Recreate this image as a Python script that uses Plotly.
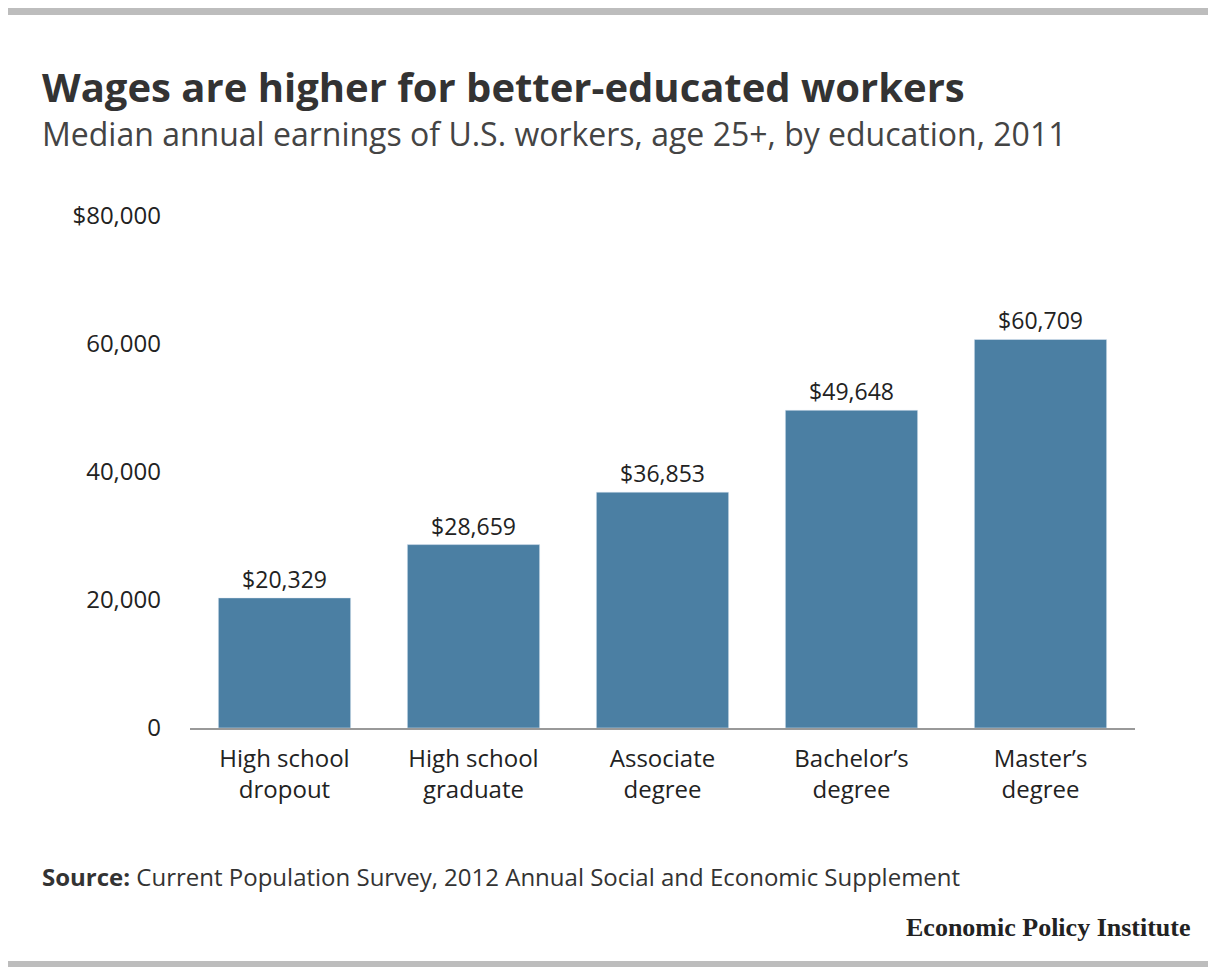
import plotly.graph_objects as go

categories = ["High school<br>dropout", "High school<br>graduate", "Associate<br>degree",
              "Bachelor\u2019s<br>degree", "Master\u2019s<br>degree"]
earnings = [20329, 28659, 36853, 49648, 60709]
tick_vals = [0, 20000, 40000, 60000, 80000]
tick_text = ["0", "20,000", "40,000", "60,000", "$80,000"]

# page is drawn with an 8px body margin, so shift everything up/left by 8
OFF = 8
W, H = 1216, 967
L, R, T, B = 190 - OFF, 1135 - OFF, 216 - OFF, 728 - OFF
FONT = "Open Sans"


def px(x):
    return (x - OFF - L) / (R - L)


def py(y):
    return (B - (y - OFF)) / (B - T)


fig = go.Figure(go.Bar(
    x=categories, y=earnings,
    marker_color="#4b7fa3", width=0.7,
    text=["$" + format(v, ",") for v in earnings],
    textposition="outside", cliponaxis=False,
    textfont=dict(size=23, color="#222", family=FONT),
))

fig.update_layout(
    width=W, height=H,
    margin=dict(l=L, r=W - R, t=T, b=H - B),
    plot_bgcolor="white", paper_bgcolor="white",
    showlegend=False, bargap=0.3,
    font=dict(family=FONT, color="#333"),
    xaxis=dict(showgrid=False, showline=True, linecolor="#999", linewidth=1.5,
               ticks="", ticklabelstandoff=8, tickfont=dict(size=24, color="#222")),
    yaxis=dict(range=[0, 80000], tickvals=tick_vals, ticktext=tick_text,
               showgrid=False, zeroline=False, ticks="", ticklabelstandoff=28,
               tickfont=dict(size=24, color="#222")),
    shapes=[
        dict(type="rect", xref="paper", yref="paper", x0=px(0), x1=px(W),
             y0=py(0), y1=py(15), fillcolor="#bdbdbd", line_width=0),
        dict(type="rect", xref="paper", yref="paper", x0=px(0), x1=px(W),
             y0=py(961), y1=py(967), fillcolor="#bdbdbd", line_width=0),
    ],
    annotations=[
        dict(text="<b>Wages are higher for better-educated workers</b>", xref="paper", yref="paper",
             x=px(40), y=py(86), xanchor="left", yanchor="middle",
             showarrow=False, font=dict(size=40, color="#333")),
        dict(text="Median annual earnings of U.S. workers, age 25+, by education, 2011",
             xref="paper", yref="paper",
             x=px(40), y=py(133), xanchor="left", yanchor="middle",
             showarrow=False, font=dict(size=32, color="#444")),
        dict(text="<b>Source:</b> Current Population Survey, 2012 Annual Social and Economic Supplement",
             xref="paper", yref="paper",
             x=px(40), y=py(876), xanchor="left", yanchor="middle",
             showarrow=False, font=dict(size=24, color="#333")),
        dict(text="<b>Economic Policy Institute</b>", xref="paper", yref="paper",
             x=px(1193), y=py(927), xanchor="right", yanchor="middle",
             showarrow=False, font=dict(size=26, color="#222", family="Liberation Serif")),
    ],
)

fig.write_html("out.html")
